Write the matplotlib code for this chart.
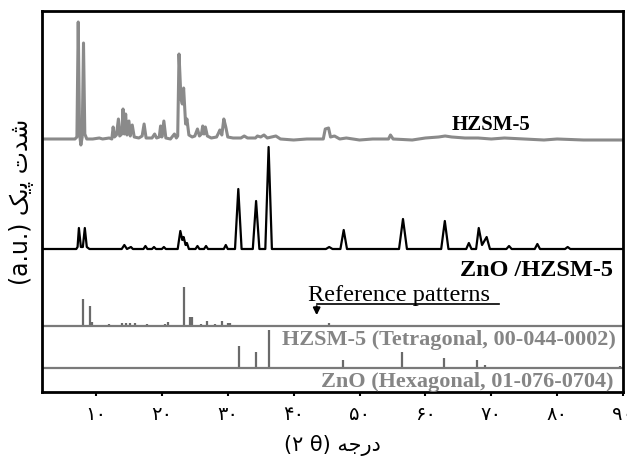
import matplotlib
matplotlib.use("Agg")
import matplotlib.pyplot as plt

# ---------------- data ----------------
# HZSM-5 measured pattern: 2theta (deg) and intensity (a.u.)
hz_x = [1.8, 6.8, 7.1, 7.3, 7.5, 7.7, 7.9, 8.1, 8.3, 8.6, 9.5, 10.5, 11.0, 12.0, 12.4,
        12.6, 12.8, 13.1, 13.4, 13.6, 13.9, 14.1, 14.3, 14.5, 14.7, 15.0, 15.2, 15.5,
        15.8, 16.5, 17.0, 17.3, 17.6, 18.5, 18.9, 19.2, 19.6, 19.8, 20.0, 20.3, 20.6,
        21.3, 21.9, 22.2, 22.4, 22.6, 22.9, 23.1, 23.3, 23.6, 23.8, 24.1, 24.6, 25.0,
        25.4, 25.7, 26.0, 26.2, 26.4, 26.6, 26.9, 27.5, 28.3, 28.6, 28.8, 29.1, 29.4,
        29.7, 30.0, 30.8, 32.0, 32.5, 33.0, 34.2, 34.5, 35.0, 35.5, 36.0, 37.3, 38.0,
        40.0, 42.0, 44.5, 44.8, 45.3, 45.6, 46.2, 47.0, 48.0, 50.0, 52.0, 54.4, 54.7,
        55.1, 58.0, 60.0, 62.0, 63.0, 64.0, 66.0, 68.0, 70.0, 72.0, 75.0, 78.0, 80.0,
        84.0, 86.0, 90.0]
hz_y = [0, 0, 2, 117, 5, -6, 2, 96, 5, 0, 0, 1, 0, 1, 0,
        12, 2, 4, 20, 3, 5, 30, 5, 25, 4, 18, 3, 14,
        2, 1, 3, 15, 1, 1, 5, 1, 2, 13, 2, 18, 1,
        0, 5, 1, 3, 85, 40, 35, 51, 15, 20, 4, 2, 3,
        10, 3, 5, 13, 5, 12, 3, 1, 2, 6, 9, 4, 20,
        12, 2, 1, 1, 3, 1, 1, 3, 2, 4, 1, 3, 0,
        -1, 0, 0, 10, 11, 2, 3, 0, 1, -1, 0, 0, 4,
        0, -1, 1, 2, 3, 2, 1, 1, 0, 1, 0, -1, 0,
        -1, -1, -1]

# ZnO/HZSM-5 measured pattern
zn_x = [1.8, 7.0, 7.2, 7.4, 7.7, 8.0, 8.3, 8.6, 9.0, 13.9, 14.3, 14.7, 15.0, 15.3, 15.6,
        17.2, 17.5, 17.8, 18.5, 18.8, 19.1, 20.0, 20.3, 20.6, 22.4, 22.8, 23.1, 23.3,
        23.6, 23.8, 24.1, 25.1, 25.4, 25.7, 26.4, 26.7, 27.0, 29.4, 29.7, 30.0, 31.1,
        31.6, 32.1, 33.8, 34.3, 34.8, 35.7, 36.2, 36.7, 44.9, 45.4, 45.9, 47.1, 47.6,
        48.1, 56.0, 56.6, 57.2, 62.4, 62.95, 63.5, 66.2, 66.6, 67.0, 67.7, 68.1, 68.6,
        69.3, 69.8, 72.3, 72.7, 73.1, 76.6, 77.0, 77.4, 81.2, 81.6, 82.0, 90.0]
zn_y = [0, 0, 2, 21, 2, 2, 21, 2, 0, 0, 4, 0, 1, 2, 0,
        0, 3, 0, 0, 2, 0, 0, 2, 0, 0, 18, 9, 12,
        4, 6, 0, 0, 3, 0, 0, 3, 0, 0, 4, 0, 0,
        60, 0, 0, 48, 0, 0, 102, 0, 0, 2, 0, 0, 19,
        0, 0, 30, 0, 0, 28, 0, 0, 6, 0, 0, 21, 4,
        12, 0, 0, 3, 0, 0, 5, 0, 0, 2, 0, 0]

# Reference stick patterns
ref_hz_pos = [8.06, 9.07, 9.4, 11.9, 13.9, 14.5, 15.1, 15.9, 17.8, 19.1, 20.4, 21.0,
              22.3, 23.3, 24.2, 24.5, 26.0, 26.8, 28.0, 29.2, 30.0, 30.4, 32.8, 34.8,
              37.6, 45.4, 47.5]
ref_hz_int = [27, 20, 4, 2, 3, 3, 3, 3, 2, 1.5, 2, 4,
              1, 39, 9, 9, 2, 5, 2, 5, 3, 3, 1, 1,
              1, 3, 1]
ref_zno_pos = [31.65, 34.3, 36.2, 47.5, 56.4, 62.9, 66.3, 67.9, 69.1, 72.6, 77.0, 89.6]
ref_zno_int = [22, 16, 38, 8, 16, 10, 1, 8, 3, 1, 1, 2]

tick_vals = [10, 20, 30, 40, 50, 60, 70, 80, 90]
tick_labels = ["\u06F1\u06F0", "\u06F2\u06F0", "\u06F3\u06F0", "\u06F4\u06F0", "\u06F5\u06F0",
               "\u06F6\u06F0", "\u06F7\u06F0", "\u06F8\u06F0", "\u06F9\u06F0"]

label_hz = "HZSM-5"
label_zn = "ZnO /HZSM-5"
label_ref = "Reference patterns"
label_ref_hz = "HZSM-5 (Tetragonal, 00-044-0002)"
label_ref_zno = "ZnO (Hexagonal, 01-076-0704)"
# Persian labels, written in shaped presentation forms (visual order)
xlabel_txt = "(\u06F2 \u03B8) \uFEEA\uFE9F\uFEAD\uFEA9"          # درجه (۲ θ)
ylabel_txt = "(a.u.) \uFB8F\uFBFE\uFB58 \uFE95\uFEAA\uFEB7"      # شدت پیک (a.u.)

# ---------------- layout ----------------
off_hz = 253
off_zn = 143
off_ref_hz = 66
off_ref_zno = 24
gray = "#8a8a8a"
serif = ["Liberation Serif", "DejaVu Serif"]

fig = plt.figure(figsize=(6.27, 4.66), dpi=100)
ax = fig.add_axes([42 / 627, 74 / 466, 581 / 627, 381 / 466])

ax.plot(hz_x, [v + off_hz for v in hz_y], color=gray, lw=2.2, solid_joinstyle="round")
ax.plot(zn_x, [v + off_zn for v in zn_y], color="black", lw=1.6, solid_joinstyle="round")

ax.vlines(ref_hz_pos, off_ref_hz, [v + off_ref_hz for v in ref_hz_int], color="#6a6a6a", lw=1.6)
ax.vlines(ref_zno_pos, off_ref_zno, [v + off_ref_zno for v in ref_zno_int], color="#6a6a6a", lw=1.6)
ax.axhline(off_ref_hz, color="#7a7a7a", lw=1.6)
ax.axhline(off_ref_zno, color="#7a7a7a", lw=1.6)

ax.text(70.0, 267, label_hz, fontsize=15, fontweight="bold", family=serif,
        ha="center", va="center", color="black")
ax.text(76.8, 122, label_zn, fontsize=17.5, fontweight="bold", family=serif,
        ha="center", va="center", color="black")
ax.text(56.0, 96, label_ref, fontsize=17.5, family=serif, ha="center", va="center")
ax.plot([43.5, 71.2], [88, 88], color="black", lw=1.2)
ax.annotate("", xy=(43.5, 74), xytext=(43.5, 88.6),
            arrowprops=dict(arrowstyle="-|>", color="black", lw=1.5, mutation_scale=10))
ax.text(88.9, 52, label_ref_hz, fontsize=16, fontweight="bold", family=serif,
        ha="right", va="center", color="#858585")
ax.text(88.6, 10, label_ref_zno, fontsize=16, fontweight="bold", family=serif,
        ha="right", va="center", color="#858585")

ax.set_xlim(1.8, 89.9)
ax.set_ylim(0, 381)
ax.set_yticks([])
ax.set_xticks(tick_vals)
ax.set_xticklabels(tick_labels, fontsize=14, family=["DejaVu Sans"])
ax.tick_params(axis="x", direction="out", length=3, width=1.5, pad=6)
for s in ax.spines.values():
    s.set_linewidth(2)

ax.set_xlabel(xlabel_txt, fontsize=15, family=["DejaVu Sans"], labelpad=8)
ax.set_ylabel(ylabel_txt, fontsize=17, family=["DejaVu Sans"], labelpad=6)

fig.savefig("out.png", dpi=100)
